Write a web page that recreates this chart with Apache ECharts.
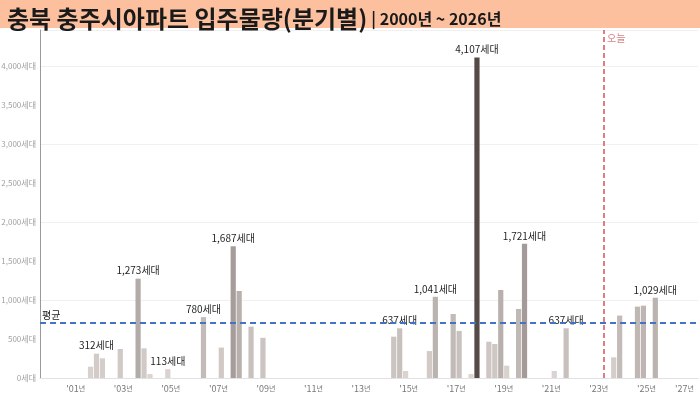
<!DOCTYPE html>
<html>
<head>
<meta charset="utf-8">
<script src="https://cdn.jsdelivr.net/npm/echarts@6/dist/echarts.min.js"></script>
<style>
html,body{margin:0;padding:0;background:#fff;}
#c{width:700px;height:395px;}
</style>
</head>
<body>
<div id="c"></div>
<script>
// ---- data ----
const quarters = [
  '2002 Q1','2002 Q2','2002 Q3','2003 Q2','2004 Q1','2004 Q2','2004 Q3','2005 Q2',
  '2006 Q4','2007 Q3','2008 Q1','2008 Q2','2008 Q4','2009 Q2',
  '2014 Q4','2015 Q1','2015 Q2','2016 Q2','2016 Q3','2017 Q2','2017 Q3','2018 Q1','2018 Q2',
  '2018 Q4','2019 Q1','2019 Q2','2019 Q3','2020 Q1','2020 Q2','2021 Q3','2022 Q1',
  '2024 Q1','2024 Q2','2025 Q1','2025 Q2','2025 Q4'
];
const units = [
  145, 312, 252, 372, 1273, 380, 50, 113,
  780, 390, 1687, 1115, 658, 515,
  530, 637, 90, 345, 1041, 820, 603, 50, 4107,
  465, 436, 1128, 158, 885, 1721, 90, 637,
  265, 800, 915, 927, 1029
];
const labelledQuarters = ['2002 Q2','2004 Q1','2005 Q2','2006 Q4','2008 Q1','2015 Q1','2016 Q3','2018 Q2','2020 Q2','2022 Q1','2025 Q4'];
const tickYears = [2001,2003,2005,2007,2009,2011,2013,2015,2017,2019,2021,2023,2025,2027];
const tickLabels = ["'01","'03","'05","'07","'09","'11","'13","'15","'17","'19","'21","'23","'25","'27"];
const yTicks = [0,500,1000,1500,2000,2500,3000,3500,4000];
const todayPos = 2023.72; // '오늘' marker (year fraction)

// quarter category -> position on the year axis (centre of the quarter)
function qPos(q){ const [y, qq] = q.split(' Q'); return +y + (+qq - 0.5) / 4; }
const fmt = v => Math.round(v).toLocaleString('en-US');

const seriesData = quarters.map((q, i) => ({
  value: [qPos(q), units[i]],
  label: { show: labelledQuarters.indexOf(q) >= 0 }
}));

const chart = echarts.init(document.getElementById('c'), null, {renderer:'canvas'});
const FONT = '"Noto Sans CJK KR", "Noto Sans", sans-serif';
chart.setOption({
  animation: false,
  textStyle: { fontFamily: FONT },
  graphic: [{
    type: 'rect', left: 0, top: 0, shape: { width: 700, height: 28 },
    style: { fill: '#fcc09e' }, z: 0
  }],
  title: {
    left: 2, top: 0,
    text: '{a|충북 충주시아파트 입주물량(분기별)} {b|| 2000년 ~ 2026년}',
    textStyle: {
      rich: {
        a: { fontSize: 24, fontWeight: 'bold', color: '#1a1a1a', fontFamily: FONT, lineHeight: 28 },
        b: { fontSize: 16, fontWeight: 'bold', color: '#1a1a1a', fontFamily: FONT, lineHeight: 28 }
      }
    }
  },
  grid: { left: 40, right: 2, top: 30, bottom: 17, containLabel: false, outerBoundsMode: 'none' },
  visualMap: {
    type: 'continuous', show: false, seriesIndex: 0, dimension: 1,
    min: 0, max: 4107, inRange: { color: ['#ddd6d3', '#564a48'] }
  },
  xAxis: {
    type: 'value', min: 2000, max: 2027.67,
    axisLine: { show: true, lineStyle: { color: '#e2e2e2' } },
    axisTick: { show: false },
    splitLine: { show: false },
    axisLabel: {
      customValues: tickYears.map(y => y + 0.5),
      margin: 6,
      alignMaxLabel: 'right',
      formatter: v => {
        const i = tickYears.indexOf(Math.round(v - 0.5));
        return i >= 0 ? '{y|' + tickLabels[i] + '}{n|년}' : '';
      },
      rich: {
        y: { fontSize: 9, color: '#777', fontFamily: FONT },
        n: { fontSize: 7, color: '#777', fontFamily: FONT }
      }
    }
  },
  yAxis: {
    type: 'value', min: 0, max: 4460,
    axisLine: { show: true, lineStyle: { color: '#9a9a9a' } },
    axisTick: { show: false },
    splitLine: { show: true, lineStyle: { color: '#f0f0f0' } },
    axisLabel: {
      customValues: yTicks,
      margin: 4, fontSize: 8, color: '#a0a0a0', fontFamily: FONT,
      formatter: v => fmt(v) + '세대'
    }
  },
  series: [{
    type: 'bar',
    barWidth: 5.2,
    data: seriesData,
    label: {
      position: 'top', distance: 3, fontSize: 10, color: '#1f1f1f', fontFamily: FONT,
      formatter: p => fmt(p.value[1]) + '세대'
    },
    markLine: {
      silent: true, symbol: 'none',
      data: [{ type: 'average', valueIndex: 1 }],
      lineStyle: { color: '#4472c4', width: 2, type: [6, 4] },
      label: { show: true, position: 'insideStartTop', formatter: '평균', color: '#222', fontSize: 10, fontFamily: FONT, distance: [2, 2] }
    },
    markPoint: {
      silent: true, symbol: 'circle', symbolSize: 0,
      data: [{ coord: [todayPos, 4355], value: '오늘' }],
      label: { show: true, position: 'right', distance: 3, formatter: '오늘', color: '#d97f82', fontSize: 10, fontFamily: FONT }
    }
  }, {
    type: 'line', data: [],
    markLine: {
      silent: true, symbol: 'none',
      data: [{ xAxis: todayPos }],
      lineStyle: { color: '#d2575d', width: 1.5, type: [5, 3] },
      label: { show: false }
    }
  }]
});
</script>
</body>
</html>
